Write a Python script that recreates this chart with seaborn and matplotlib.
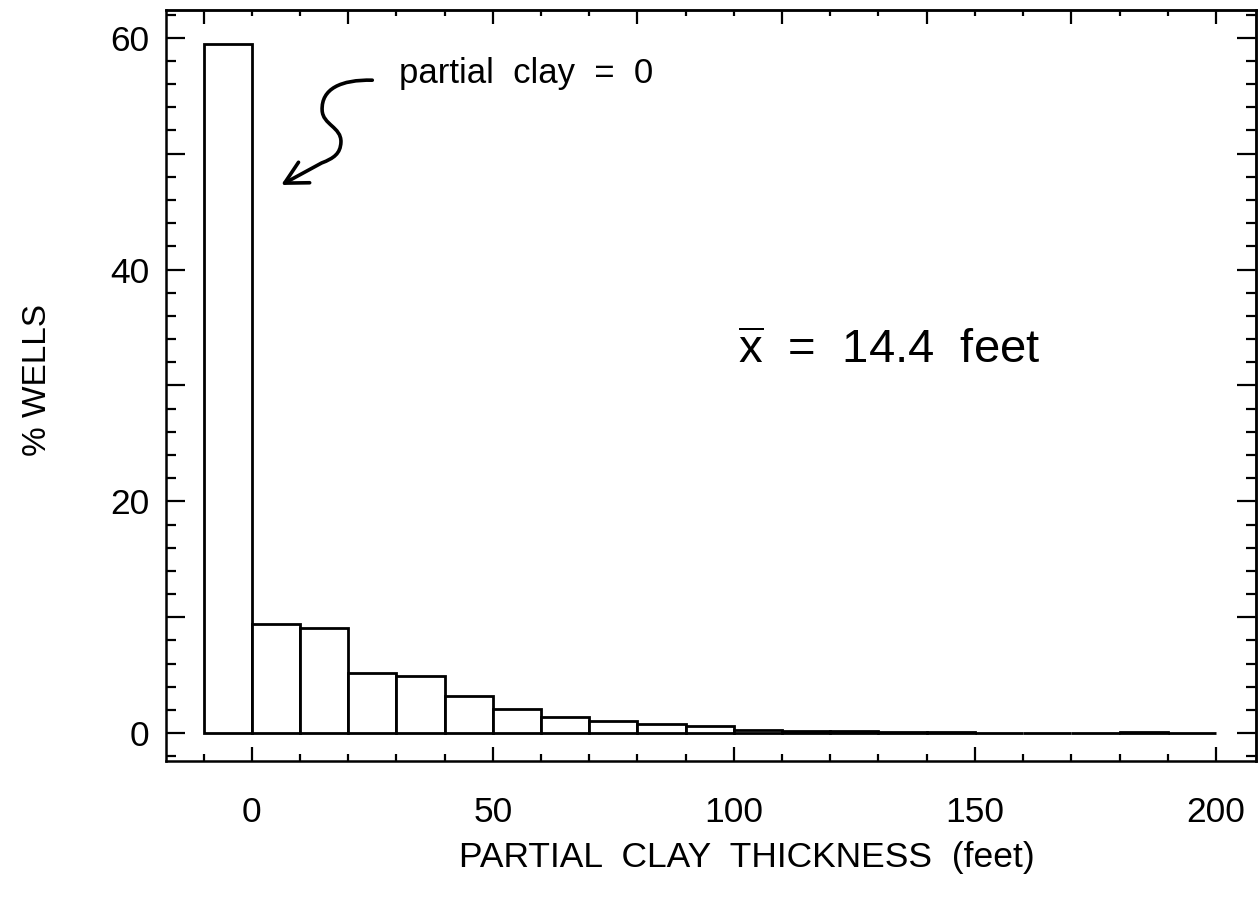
import numpy as np
import pandas as pd
import matplotlib
matplotlib.use("Agg")
import matplotlib.pyplot as plt
import seaborn as sns
from matplotlib.path import Path
from matplotlib.patches import FancyArrowPatch
from matplotlib.ticker import MultipleLocator, FixedLocator, FuncFormatter

# Histogram of partial clay thickness, 10-foot bins; the first bin holds wells with no partial clay
bin_edges = list(range(-10, 201, 10))
percent_wells = [59.5, 9.4, 9.1, 5.2, 4.9, 3.25, 2.1, 1.4, 1.05, 0.8, 0.62,
                 0.3, 0.2, 0.15, 0.1, 0.1, 0.06, 0.06, 0.06, 0.08, 0.04]
x_tick_values = [0, 50, 100, 150, 200]
y_tick_labels = ["0", "20", "40", "60"]
mean_thickness = 14.4

bin_mids = [(a + b) / 2 for a, b in zip(bin_edges[:-1], bin_edges[1:])]
df = pd.DataFrame({"thickness": bin_mids, "pct": percent_wells})

sns.set_theme(style="white")
plt.rcParams["font.family"] = ["Liberation Sans", "DejaVu Sans"]
plt.rcParams["mathtext.fontset"] = "custom"
plt.rcParams["mathtext.rm"] = "Liberation Sans"
plt.rcParams["text.color"] = "black"
plt.rcParams["axes.labelcolor"] = "black"
plt.rcParams["xtick.color"] = "black"
plt.rcParams["ytick.color"] = "black"

fig = plt.figure(figsize=(12.6, 9.05), dpi=100)
ax = fig.add_axes([0.1317, 0.1591, 0.8651, 0.8299])

sns.histplot(data=df, x="thickness", weights="pct", bins=bin_edges, ax=ax,
             color="white", edgecolor="black", linewidth=2.0, alpha=1.0)

ax.set_xlim(-17.8, 208.3)
ax.set_ylim(-2.4, 62.4)

for s in ax.spines.values():
    s.set_visible(True)
    s.set_color("black")
    s.set_linewidth(1.8)

# x axis: labelled every 50, minor ticks every 10
ax.xaxis.set_major_locator(FixedLocator(x_tick_values))
ax.xaxis.set_minor_locator(FixedLocator(bin_edges))
ax.set_xticklabels([str(v) for v in x_tick_values])

# y axis: long ticks every 10, labels every 20, minor every 2
ax.yaxis.set_major_locator(MultipleLocator(10))
ax.yaxis.set_minor_locator(MultipleLocator(2))
ax.yaxis.set_major_formatter(FuncFormatter(
    lambda v, p: y_tick_labels[int(round(v)) // 20] if int(round(v)) % 20 == 0 and 0 <= v <= 60 else ""))

ax.tick_params(axis="x", which="major", direction="in", length=10, width=1.6,
               labelsize=25.5, pad=25, bottom=True)
ax.tick_params(axis="x", which="minor", direction="in", length=5, width=1.6, bottom=True)
ax.tick_params(axis="y", which="major", direction="in", length=14, width=1.6,
               labelsize=25.5, pad=12, left=True)
ax.tick_params(axis="y", which="minor", direction="in", length=7, width=1.6, left=True)

# frame ticks on the top and right sides
top = ax.secondary_xaxis("top")
top.xaxis.set_major_locator(FixedLocator(list(range(-10, 201, 30))))
top.xaxis.set_minor_locator(FixedLocator(bin_edges))
top.tick_params(which="major", direction="in", length=10, width=1.6, labeltop=False)
top.tick_params(which="minor", direction="in", length=4, width=1.6)
top.spines["top"].set_linewidth(1.8)

right = ax.secondary_yaxis("right")
right.yaxis.set_major_locator(MultipleLocator(10))
right.yaxis.set_minor_locator(MultipleLocator(2))
right.tick_params(which="major", direction="in", length=14, width=1.6, labelright=False)
right.tick_params(which="minor", direction="in", length=7, width=1.6)
right.spines["right"].set_linewidth(1.8)

ax.set_xlabel("PARTIAL  CLAY  THICKNESS  (feet)", fontsize=25.5)
ax.set_ylabel("% WELLS", fontsize=24)
ax.xaxis.set_label_coords(0.533, -0.106)
ax.xaxis.label.set_va("top")
ax.yaxis.set_label_coords(-0.104, 0.507)

# annotation for the zero-thickness bin
ax.text(30.6, 56.1, "partial  clay  =  0", fontsize=25, ha="left", va="baseline")
verts = [(25.0, 56.34),
         (18.5, 56.4), (14.4, 55.6), (14.6, 53.75),
         (14.7, 52.5), (18.6, 52.3), (18.5, 51.0),
         (18.4, 50.0), (17.0, 49.6), (14.5, 49.2),
         (6.1, 47.3)]
codes = [Path.MOVETO,
         Path.CURVE4, Path.CURVE4, Path.CURVE4,
         Path.CURVE4, Path.CURVE4, Path.CURVE4,
         Path.CURVE4, Path.CURVE4, Path.CURVE4,
         Path.LINETO]
arrow = FancyArrowPatch(path=Path(verts, codes), arrowstyle="->,head_length=0.8,head_width=0.42",
                        mutation_scale=20, lw=2.6, color="black", transform=ax.transData)
ax.add_patch(arrow)

ax.text(100.8, 31.9, r"$\overline{\mathrm{x}}$  =  " + "{:.1f}  feet".format(mean_thickness),
        fontsize=34, ha="left", va="baseline")

fig.savefig("out.png", dpi=100, facecolor="white")
